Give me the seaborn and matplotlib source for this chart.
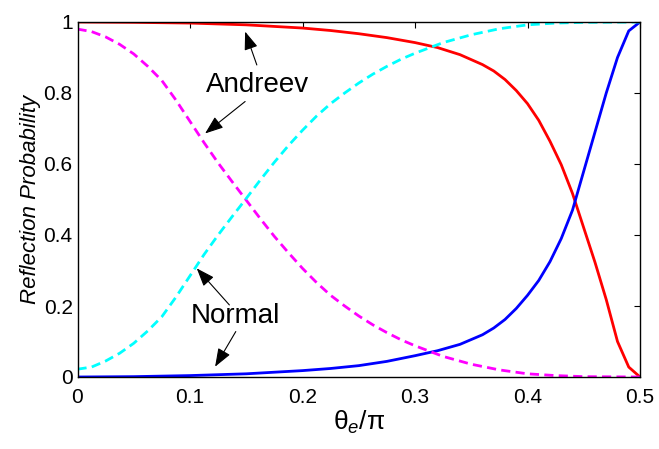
import numpy as np
import pandas as pd
import seaborn as sns
import matplotlib
matplotlib.use("Agg")
import matplotlib.pyplot as plt

# Incidence angle (units of pi) and reflection probabilities, solid curves
theta_solid = [0.0, 0.05, 0.1, 0.15, 0.2, 0.225, 0.25, 0.275, 0.3, 0.32,
               0.34, 0.36, 0.37, 0.38, 0.39, 0.4, 0.41, 0.42, 0.43, 0.44,
               0.45, 0.46, 0.47, 0.48, 0.49, 0.5]
andreev_solid = [1.0, 0.999, 0.997, 0.992, 0.983, 0.976, 0.967, 0.956, 0.942,
                 0.928, 0.908, 0.880, 0.862, 0.838, 0.807, 0.770, 0.723,
                 0.664, 0.598, 0.517, 0.42, 0.323, 0.218, 0.10, 0.028, 0.0]
normal_solid = [0.0, 0.001, 0.004, 0.009, 0.018, 0.024, 0.032, 0.044, 0.06,
                0.074, 0.092, 0.119, 0.138, 0.162, 0.193, 0.23, 0.272, 0.325,
                0.39, 0.47, 0.58, 0.69, 0.80, 0.90, 0.975, 1.0]

# Dashed curves
theta_dashed = [0.0, 0.0125, 0.025, 0.0375, 0.05, 0.0625, 0.075, 0.0875, 0.1,
                0.1125, 0.125, 0.1375, 0.15, 0.1625, 0.175, 0.1875, 0.2,
                0.2125, 0.225, 0.2375, 0.25, 0.2625, 0.275, 0.2875, 0.3,
                0.325, 0.35, 0.375, 0.4, 0.425, 0.45, 0.5]
andreev_dashed = [0.98, 0.973, 0.958, 0.937, 0.91, 0.875, 0.835, 0.78, 0.72,
                  0.66, 0.603, 0.55, 0.498, 0.446, 0.396, 0.35, 0.306, 0.266,
                  0.23, 0.2, 0.172, 0.147, 0.125, 0.105, 0.088, 0.058, 0.036,
                  0.02, 0.009, 0.004, 0.001, 0.0]
normal_dashed = [0.022, 0.028, 0.045, 0.067, 0.095, 0.13, 0.17, 0.225, 0.285,
                 0.345, 0.40, 0.452, 0.503, 0.555, 0.605, 0.652, 0.695, 0.735,
                 0.77, 0.80, 0.828, 0.853, 0.875, 0.895, 0.912, 0.942, 0.964,
                 0.981, 0.992, 0.997, 0.999, 1.0]

x_ticks = [0, 0.1, 0.2, 0.3, 0.4, 0.5]
x_ticklabels = ["0", "0.1", "0.2", "0.3", "0.4", "0.5"]
y_ticks = [0, 0.2, 0.4, 0.6, 0.8, 1.0]
y_ticklabels = ["0", "0.2", "0.4", "0.6", "0.8", "1"]

sns.set_theme(style="white")
plt.rcParams["font.family"] = ["Liberation Sans", "DejaVu Sans"]
plt.rcParams["mathtext.fontset"] = "custom"
plt.rcParams["mathtext.rm"] = "Liberation Sans"
plt.rcParams["mathtext.it"] = "Liberation Sans:italic"
plt.rcParams["text.color"] = "black"
plt.rcParams["axes.labelcolor"] = "black"

solid = pd.DataFrame({"theta": theta_solid, "andreev": andreev_solid,
                      "normal": normal_solid})
dashed = pd.DataFrame({"theta": theta_dashed, "andreev": andreev_dashed,
                       "normal": normal_dashed})

fig = plt.figure(figsize=(6.59, 4.49), dpi=100)
ax = fig.add_axes([77.5 / 659, 1 - 377 / 449, (640 - 77.5) / 659,
                   (377 - 22) / 449])

lw = 2.0
dash = (3.3, 1.9)
sns.lineplot(data=solid, x="theta", y="andreev", ax=ax, color="#ff0000",
             lw=lw, sort=False)
sns.lineplot(data=solid, x="theta", y="normal", ax=ax, color="#0000ff",
             lw=lw, sort=False)
sns.lineplot(data=dashed, x="theta", y="andreev", ax=ax, color="#ff00ff",
             lw=lw, sort=False)
ax.lines[-1].set_dashes(dash)
sns.lineplot(data=dashed, x="theta", y="normal", ax=ax, color="#00ffff",
             lw=lw, sort=False)
ax.lines[-1].set_dashes(dash)

ax.set_xlim(0, 0.5)
ax.set_ylim(0, 1)
ax.set_xticks(x_ticks)
ax.set_xticklabels(x_ticklabels)
ax.set_yticks(y_ticks)
ax.set_yticklabels(y_ticklabels)
ax.tick_params(direction="in", length=4, width=0.8, top=True, right=True,
               labelsize=15, colors="black")
ax.tick_params(axis="x", pad=8)
ax.tick_params(axis="y", pad=3.5)
for s in ax.spines.values():
    s.set_color("black")
    s.set_linewidth(1.0)

ax.set_xlabel(r"θ$_{\mathit{e}}$/π", fontsize=19, labelpad=1)
ax.set_ylabel("Reflection Probability", fontsize=16, style="italic",
              labelpad=2)

arrow = dict(arrowstyle="-|>,head_length=0.8,head_width=0.3",
             mutation_scale=14, color="black", lw=0.8, shrinkA=0, shrinkB=0)
ax.text(0.1597, 0.822, "Andreev", fontsize=20, ha="center", va="center")
ax.annotate("", xy=(0.149, 0.973), xytext=(0.1594, 0.879), arrowprops=arrow)
ax.annotate("", xy=(0.1134, 0.686), xytext=(0.149, 0.776), arrowprops=arrow)
ax.text(0.140, 0.172, "Normal", fontsize=20, ha="center", va="center")
ax.annotate("", xy=(0.106, 0.306), xytext=(0.135, 0.203), arrowprops=arrow)
ax.annotate("", xy=(0.1223, 0.029), xytext=(0.1407, 0.128), arrowprops=arrow)

fig.savefig("out.png", dpi=100)
